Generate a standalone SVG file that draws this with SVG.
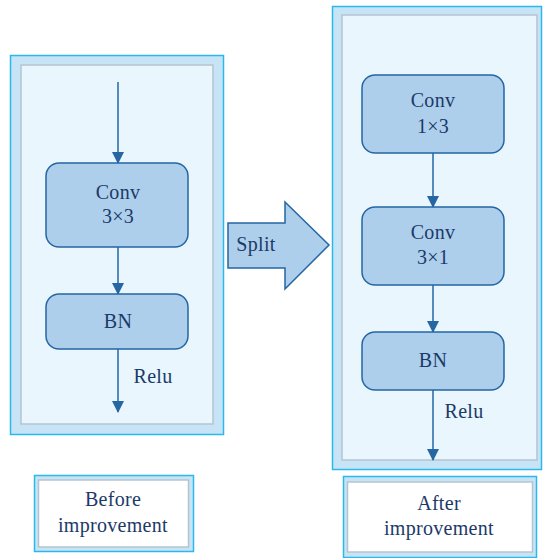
<svg xmlns="http://www.w3.org/2000/svg" width="543" height="558" viewBox="0 0 543 558">
  <defs>
    <style>
      .outer { fill: #c6e4f6; stroke: #2bb8ea; stroke-width: 1.5; }
      .inner { fill: #e9f6fd; stroke: #b5c3cf; stroke-width: 1.5; }
      .lblinner { fill: #ffffff; stroke: #b5c3cf; stroke-width: 1.5; }
      .node { fill: #aecfec; stroke: #2566a3; stroke-width: 1.5; }
      .txt { font-family: "Liberation Serif", serif; font-size: 20px; fill: #1b3a68; text-anchor: middle; letter-spacing: 0.3px; }
      .edge { stroke: #2566a3; stroke-width: 1.5; fill: none; }
    </style>
    <marker id="arr" viewBox="0 0 12 12" refX="11" refY="6" markerWidth="12" markerHeight="12" markerUnits="userSpaceOnUse" orient="auto">
      <path d="M0,0 L12,6 L0,12 Z" fill="#2566a3"/>
    </marker>
  </defs>

  <!-- panels -->
  <g id="panel-before">
    <rect class="outer" x="10.5" y="55.5" width="213" height="379"/>
    <rect class="inner" x="21" y="65" width="192" height="359"/>
  </g>
  <g id="panel-after">
    <rect class="outer" x="332.5" y="6.5" width="209" height="463"/>
    <rect class="inner" x="342" y="15" width="195" height="445"/>
  </g>

  <!-- connectors -->
  <g id="connectors">
    <line class="edge" x1="118" y1="82" x2="118" y2="163" marker-end="url(#arr)"/>
    <line class="edge" x1="118" y1="247" x2="118" y2="294" marker-end="url(#arr)"/>
    <line class="edge" x1="118" y1="349" x2="118" y2="412" marker-end="url(#arr)"/>
    <line class="edge" x1="433" y1="153" x2="433" y2="207" marker-end="url(#arr)"/>
    <line class="edge" x1="433" y1="285" x2="433" y2="332" marker-end="url(#arr)"/>
    <line class="edge" x1="433" y1="390" x2="433" y2="460" marker-end="url(#arr)"/>
    <text class="txt" x="153" y="383">Relu</text>
    <text class="txt" x="464" y="418">Relu</text>
  </g>

  <!-- before -->
  <g id="conv3x3">
    <rect class="node" x="46" y="163" width="142" height="84" rx="13"/>
    <text class="txt" x="118" y="199">Conv</text>
    <text class="txt" x="118" y="223">3×3</text>
  </g>
  <g id="bn-before">
    <rect class="node" x="46" y="294" width="142" height="55" rx="13"/>
    <text class="txt" x="118" y="328">BN</text>
  </g>

  <!-- split arrow -->
  <g id="split">
    <path class="node" d="M228,223 L285,223 L285,202 L329,245 L285,289 L285,268 L228,268 Z"/>
    <text class="txt" x="256" y="251">Split</text>
  </g>

  <!-- after -->
  <g id="conv1x3">
    <rect class="node" x="362" y="75" width="142" height="78" rx="13"/>
    <text class="txt" x="433" y="107">Conv</text>
    <text class="txt" x="433" y="133">1×3</text>
  </g>
  <g id="conv3x1">
    <rect class="node" x="362" y="207" width="142" height="78" rx="13"/>
    <text class="txt" x="433" y="239">Conv</text>
    <text class="txt" x="433" y="264">3×1</text>
  </g>
  <g id="bn-after">
    <rect class="node" x="362" y="332" width="142" height="58" rx="13"/>
    <text class="txt" x="433" y="367">BN</text>
  </g>

  <!-- captions -->
  <g id="caption-before">
    <rect class="outer" x="34.5" y="475.5" width="159" height="76"/>
    <rect class="lblinner" x="38.5" y="480" width="150" height="67"/>
    <text class="txt" x="113" y="506">Before</text>
    <text class="txt" x="113" y="532">improvement</text>
  </g>
  <g id="caption-after">
    <rect class="outer" x="343.5" y="476.5" width="193" height="81"/>
    <rect class="lblinner" x="347.5" y="482" width="185" height="70"/>
    <text class="txt" x="439" y="510">After</text>
    <text class="txt" x="439" y="535">improvement</text>
  </g>
</svg>
